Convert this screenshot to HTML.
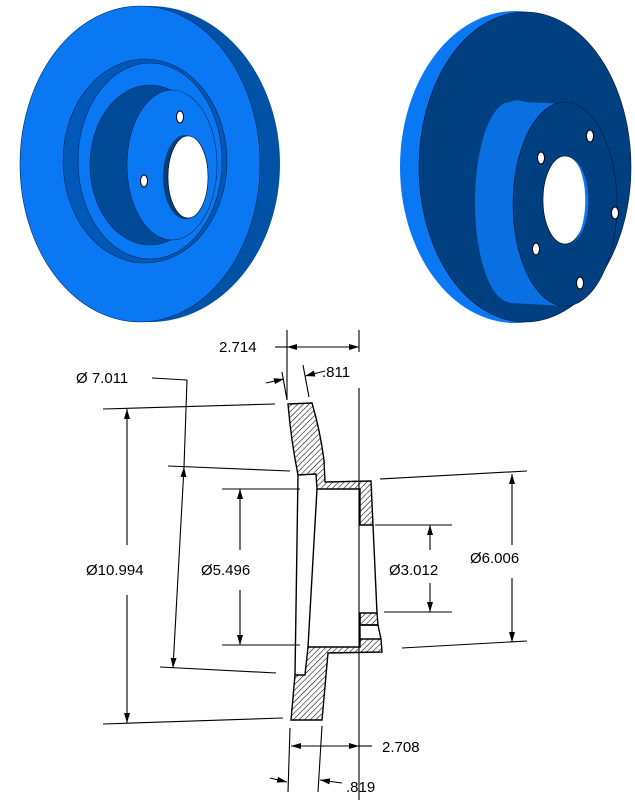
<!DOCTYPE html>
<html><head><meta charset="utf-8"><style>
html,body{margin:0;padding:0;background:#fff;width:635px;height:802px;overflow:hidden}
svg{display:block}
text{font-family:"Liberation Sans",sans-serif;font-size:15px;fill:#000}
</style></head><body>
<svg width="635" height="802" viewBox="0 0 635 802" xmlns="http://www.w3.org/2000/svg">
<defs>
<pattern id="h" patternUnits="userSpaceOnUse" width="4" height="4" patternTransform="rotate(45)">
<rect width="4" height="4" fill="#fff"/><line x1="0" y1="0" x2="0" y2="4" stroke="#000" stroke-width="1.1"/></pattern>
<marker id="a" markerWidth="10" markerHeight="6" refX="10" refY="3" orient="auto" markerUnits="userSpaceOnUse"><path d="M0,0 L10,3 L0,6z" fill="#000"/></marker>
</defs>
<!-- left disc -->
<ellipse cx="150" cy="164" rx="130" ry="158" fill="#0052a6"/>
<ellipse cx="140" cy="164" rx="120" ry="158" fill="#0a78f2" stroke="#002a60" stroke-width="0.6"/>
<ellipse cx="145" cy="161" rx="82" ry="102" fill="#0058b8" stroke="#002a60" stroke-width="0.6"/>
<ellipse cx="150" cy="161" rx="72" ry="98" fill="#0a78f2" stroke="#002a60" stroke-width="0.6"/>
<ellipse cx="150" cy="165" rx="60" ry="80" fill="#004a98" stroke="#002a60" stroke-width="0.6"/>
<ellipse cx="172" cy="165" rx="45" ry="75" fill="#0a78f2" stroke="#002a60" stroke-width="0.6"/>
<ellipse cx="185" cy="177" rx="22" ry="42" fill="#003f80"/>
<ellipse cx="188" cy="177" rx="20" ry="41" fill="#fff" stroke="#000" stroke-width="0.6"/>
<ellipse cx="180" cy="117" rx="3.5" ry="6" fill="#fff" stroke="#000"/>
<ellipse cx="144" cy="181" rx="3.5" ry="6" fill="#fff" stroke="#000"/>
<!-- right disc -->
<ellipse cx="515" cy="167" rx="115" ry="156" fill="#0a78f2"/>
<ellipse cx="525" cy="167" rx="106" ry="155" fill="#003f80" stroke="#001a40" stroke-width="0.6"/>
<path d="M525,102 L565,104 L565,306 L510,303 A40,100 0 0 1 525,102z" fill="#0a6fe0"/>
<ellipse cx="510" cy="202" rx="35" ry="100" fill="#0a6fe0"/>
<ellipse cx="565" cy="204" rx="52" ry="102" fill="#003f80" stroke="#001a40" stroke-width="0.6"/>
<ellipse cx="565" cy="200" rx="22" ry="44" fill="#fff" stroke="#000" stroke-width="0.6"/>
<path d="M572,158 A22,44 0 0 1 570,244 A18,44 0 0 0 572,158z" fill="#0a78f2"/>
<ellipse cx="541" cy="158" rx="3.5" ry="6" fill="#fff" stroke="#000"/>
<ellipse cx="590" cy="136" rx="3.5" ry="6" fill="#fff" stroke="#000"/>
<ellipse cx="615" cy="213" rx="3.5" ry="6" fill="#fff" stroke="#000"/>
<ellipse cx="536" cy="249" rx="3.5" ry="6" fill="#fff" stroke="#000"/>
<ellipse cx="580" cy="283" rx="3.5" ry="6" fill="#fff" stroke="#000"/>
<!-- section -->
<g stroke="#000" stroke-width="1.4" fill="none">
<path d="M288,404 L312,403 Q320,430 324,460 L325,482 L371,481 L373,525 L360,525 L360,489 L317,489 L316,474 L298,475 Q291,440 288,404z" fill="url(#h)"/>
<path d="M360,613 L377,613 L378,625 L360,625z" fill="url(#h)"/>
<path d="M360,639 L381,639 L382,652 L328,653 L322,720 L291,720 L295,675 L305,675 L308,647 L360,647z" fill="url(#h)"/>
<line x1="298" y1="475" x2="295" y2="675"/>
<line x1="317" y1="489" x2="308" y2="647"/>
<line x1="373" y1="525" x2="377" y2="613"/>
<line x1="360" y1="625" x2="378" y2="625"/>
<line x1="378" y1="625" x2="381" y2="639"/>
<line x1="360" y1="613" x2="360" y2="639"/>
</g>
<g stroke="#000" stroke-width="1.1" fill="none">
<line x1="359" y1="330" x2="359" y2="352"/><line x1="359" y1="388" x2="359" y2="800"/>
<line x1="287" y1="330" x2="287" y2="400"/>
<line x1="323" y1="347" x2="287" y2="347" marker-end="url(#a)"/>
<line x1="323" y1="347" x2="359" y2="347" marker-end="url(#a)"/>
<line x1="275" y1="347" x2="287" y2="347"/>
<line x1="282" y1="372" x2="287" y2="400"/><line x1="303" y1="365" x2="309" y2="397"/>
<line x1="266" y1="383" x2="284" y2="379" marker-end="url(#a)"/>
<line x1="325" y1="371" x2="305" y2="376" marker-end="url(#a)"/>
<!-- 10.994 -->
<line x1="103" y1="409" x2="275" y2="404"/><line x1="103" y1="724" x2="283" y2="718"/>
<line x1="127" y1="545" x2="127" y2="409" marker-end="url(#a)"/>
<line x1="127" y1="595" x2="127" y2="723" marker-end="url(#a)"/>
<!-- 7.011 -->
<line x1="152" y1="378" x2="187" y2="380"/>
<line x1="187" y1="380" x2="184" y2="467" /><line x1="180" y1="540" x2="184" y2="467" marker-end="url(#a)"/>
<line x1="180" y1="540" x2="173" y2="668" marker-end="url(#a)"/>
<line x1="168" y1="466" x2="290" y2="471"/><line x1="160" y1="667" x2="276" y2="673"/>
<!-- 5.496 -->
<line x1="222" y1="489" x2="300" y2="489"/><line x1="222" y1="645" x2="300" y2="645"/>
<line x1="240" y1="550" x2="240" y2="489" marker-end="url(#a)"/>
<line x1="240" y1="590" x2="240" y2="645" marker-end="url(#a)"/>
<!-- 3.012 -->
<line x1="375" y1="525" x2="452" y2="525"/><line x1="384" y1="612" x2="452" y2="612"/>
<line x1="430" y1="550" x2="430" y2="525" marker-end="url(#a)"/>
<line x1="430" y1="583" x2="430" y2="612" marker-end="url(#a)"/>
<!-- 6.006 -->
<line x1="380" y1="479" x2="527" y2="471"/><line x1="402" y1="648" x2="527" y2="641"/>
<line x1="512" y1="545" x2="512" y2="474" marker-end="url(#a)"/>
<line x1="512" y1="578" x2="512" y2="642" marker-end="url(#a)"/>
<!-- 2.708 / .819 -->
<line x1="290" y1="728" x2="288" y2="792"/><line x1="322" y1="726" x2="318" y2="792"/>
<line x1="325" y1="746" x2="291" y2="746" marker-end="url(#a)"/>
<line x1="325" y1="746" x2="359" y2="746" marker-end="url(#a)"/>
<line x1="359" y1="746" x2="372" y2="746"/>
<line x1="270" y1="778" x2="287" y2="782" marker-end="url(#a)"/>
<line x1="342" y1="783" x2="320" y2="780" marker-end="url(#a)"/>
</g>
<text x="219" y="352">2.714</text>
<text x="322" y="377">.811</text>
<text x="76" y="383">Ø 7.011</text>
<text x="86" y="575">Ø10.994</text>
<text x="201" y="575">Ø5.496</text>
<text x="389" y="575">Ø3.012</text>
<text x="470" y="563">Ø6.006</text>
<text x="382" y="752">2.708</text>
<text x="346" y="792">.819</text>
</svg>
</body></html>
